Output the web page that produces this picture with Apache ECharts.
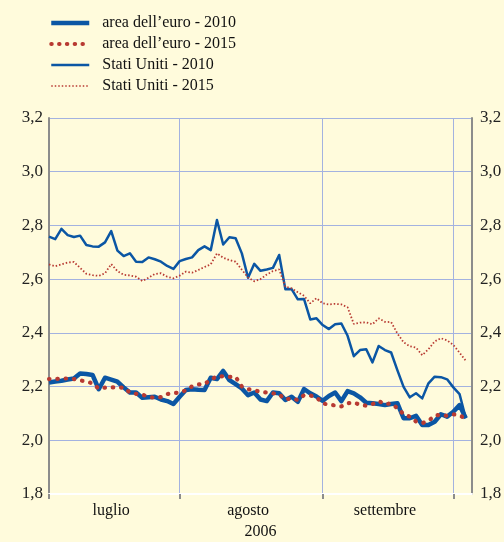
<!DOCTYPE html>
<html>
<head>
<meta charset="utf-8">
<script src="https://cdn.jsdelivr.net/npm/echarts@6/dist/echarts.min.js"></script>
<style>
  html, body { margin: 0; padding: 0; background: #fffbdc; }
  #chart { width: 504px; height: 542px; }
</style>
</head>
<body>
<div id="chart"></div>
<script>
// giorni lavorativi dal 3 luglio al 5 ottobre 2006 (asse per categorie)
var days = []
var d = new Date(2006, 6, 3)
while (d <= new Date(2006, 9, 5)) {
  if (d.getDay() !== 0 && d.getDay() !== 6) {
    days.push((d.getMonth() + 1) + '/' + d.getDate())
  }
  d.setDate(d.getDate() + 1)
}
var monthStarts = [0, 21, 44, 65] // 3/7, 1/8, 1/9, 2/10
var monthLabels = { 10: 'luglio', 32: 'agosto', 54: 'settembre' }

var euro2010 = [2.215, 2.219, 2.222, 2.226, 2.230, 2.249, 2.247, 2.243, 2.190, 2.233,
  2.226, 2.218, 2.197, 2.178, 2.178, 2.158, 2.160, 2.162, 2.152, 2.146,
  2.135, 2.162, 2.187, 2.190, 2.188, 2.187, 2.233, 2.228, 2.258, 2.224,
  2.209, 2.193, 2.168, 2.178, 2.152, 2.146, 2.178, 2.175, 2.150, 2.162,
  2.143, 2.191, 2.175, 2.163, 2.147, 2.165, 2.178, 2.146, 2.183, 2.175,
  2.160, 2.140, 2.138, 2.135, 2.131, 2.135, 2.138, 2.082, 2.082, 2.091,
  2.057, 2.057, 2.069, 2.097, 2.088, 2.106, 2.131, 2.082]
var euro2015 = [2.228, 2.228, 2.230, 2.230, 2.228, 2.223, 2.219, 2.212, 2.192, 2.196,
  2.197, 2.197, 2.196, 2.178, 2.173, 2.170, 2.162, 2.158, 2.161, 2.172,
  2.176, 2.177, 2.186, 2.201, 2.208, 2.209, 2.226, 2.238, 2.238, 2.236,
  2.236, 2.200, 2.190, 2.187, 2.180, 2.178, 2.175, 2.171, 2.152, 2.156,
  2.150, 2.168, 2.167, 2.160, 2.138, 2.132, 2.130, 2.126, 2.138, 2.141,
  2.132, 2.129, 2.135, 2.146, 2.135, 2.137, 2.120, 2.097, 2.088, 2.070,
  2.064, 2.072, 2.092, 2.095, 2.091, 2.097, 2.092, 2.082]
var usa2010 = [2.758, 2.749, 2.787, 2.764, 2.757, 2.762, 2.727, 2.722, 2.721, 2.737,
  2.779, 2.706, 2.686, 2.696, 2.665, 2.664, 2.681, 2.674, 2.665, 2.649,
  2.638, 2.667, 2.675, 2.681, 2.708, 2.722, 2.708, 2.820, 2.729, 2.756,
  2.752, 2.696, 2.605, 2.657, 2.631, 2.636, 2.642, 2.690, 2.562, 2.563,
  2.525, 2.526, 2.450, 2.454, 2.429, 2.414, 2.432, 2.435, 2.389, 2.313,
  2.336, 2.339, 2.290, 2.351, 2.336, 2.327, 2.261, 2.199, 2.160, 2.175,
  2.156, 2.212, 2.237, 2.235, 2.227, 2.197, 2.172, 2.082]
var usa2015 = [2.655, 2.648, 2.655, 2.662, 2.664, 2.642, 2.620, 2.615, 2.612, 2.622,
  2.656, 2.630, 2.616, 2.614, 2.609, 2.593, 2.605, 2.619, 2.622, 2.609,
  2.603, 2.613, 2.628, 2.624, 2.634, 2.645, 2.655, 2.696, 2.680, 2.671,
  2.665, 2.635, 2.606, 2.592, 2.600, 2.617, 2.630, 2.636, 2.572, 2.566,
  2.551, 2.538, 2.510, 2.529, 2.510, 2.506, 2.508, 2.506, 2.495, 2.433,
  2.438, 2.439, 2.432, 2.454, 2.441, 2.440, 2.398, 2.365, 2.350, 2.345,
  2.317, 2.339, 2.368, 2.380, 2.372, 2.355, 2.326, 2.296]

var BLUE = '#0b56a4'
var RED = '#b83a32'
var GRID = '#a3b2e0'
var AXIS = '#8c8c8c'
var FONT = "'Liberation Serif', 'Times New Roman', serif"

function yAxisDef (pos) {
  return {
    type: 'value',
    position: pos,
    min: 1.8,
    max: 3.2,
    interval: 0.2,
    axisLine: { show: true, lineStyle: { color: AXIS, width: 2 } },
    axisTick: { show: false },
    axisLabel: {
      color: '#222',
      fontFamily: FONT,
      fontSize: 17,
      margin: pos === 'left' ? 6 : 8,
      formatter: function (v) { return v.toFixed(1).replace('.', ',') }
    },
    splitLine: { show: pos === 'left', lineStyle: { color: GRID, width: 1 } }
  }
}

var chart = echarts.init(document.getElementById('chart'), null, { renderer: 'canvas' })
chart.setOption({
  animation: false,
  backgroundColor: '#fffbdc',
  legend: {
    orient: 'vertical',
    left: 44,
    top: 10,
    itemWidth: 38,
    itemHeight: 14,
    itemGap: 5,
    itemStyle: { opacity: 0 }, // solo la linea, niente simbolo
    textStyle: { fontFamily: FONT, fontSize: 16, color: '#111', padding: [0, 0, 0, 8] },
    data: [
      { name: 'area dell\u2019euro - 2010', lineStyle: { width: 4.5 } },
      { name: 'area dell\u2019euro - 2015', lineStyle: { width: 4, type: [0.5, 7.3], cap: 'round' } },
      { name: 'Stati Uniti - 2010', lineStyle: { width: 2.5 } },
      { name: 'Stati Uniti - 2015', lineStyle: { width: 1.5, type: [1.5, 2] } }
    ]
  },
  grid: { left: 49, right: 32, top: 118, bottom: 48, outerBoundsMode: 'none' },
  xAxis: {
    type: 'category',
    boundaryGap: false,
    data: days,
    name: '2006',
    nameLocation: 'middle',
    nameGap: 30,
    nameTextStyle: { fontFamily: FONT, fontSize: 16, color: '#111' },
    axisLine: { show: true, lineStyle: { color: '#ffffff', width: 2 } },
    axisTick: {
      show: true,
      length: 5,
      lineStyle: { color: AXIS, width: 2 },
      interval: function (i) { return monthStarts.indexOf(i) >= 0 }
    },
    axisLabel: {
      margin: 9,
      fontFamily: FONT,
      fontSize: 16,
      color: '#111',
      interval: function (i) { return monthLabels[i] !== undefined },
      formatter: function (v, i) { return monthLabels[i] || '' }
    },
    splitLine: {
      show: true,
      lineStyle: { color: GRID, width: 1 },
      interval: function (i) { return monthStarts.indexOf(i) >= 0 }
    }
  },
  yAxis: [yAxisDef('left'), yAxisDef('right')],
  series: [
    {
      name: 'area dell\u2019euro - 2010',
      type: 'line',
      symbol: 'none',
      data: euro2010,
      lineStyle: { color: BLUE, width: 4.5, join: 'round' },
      itemStyle: { color: BLUE }
    },
    {
      name: 'area dell\u2019euro - 2015',
      type: 'line',
      symbol: 'none',
      data: euro2015,
      lineStyle: { color: RED, width: 4.2, type: [0.5, 7.8], cap: 'round' },
      itemStyle: { color: RED }
    },
    {
      name: 'Stati Uniti - 2010',
      type: 'line',
      symbol: 'none',
      data: usa2010,
      lineStyle: { color: BLUE, width: 2.5, join: 'round' },
      itemStyle: { color: BLUE }
    },
    {
      name: 'Stati Uniti - 2015',
      type: 'line',
      symbol: 'none',
      data: usa2015,
      lineStyle: { color: RED, width: 1.8, type: [1.5, 2] },
      itemStyle: { color: RED }
    }
  ]
})
</script>
</body>
</html>
